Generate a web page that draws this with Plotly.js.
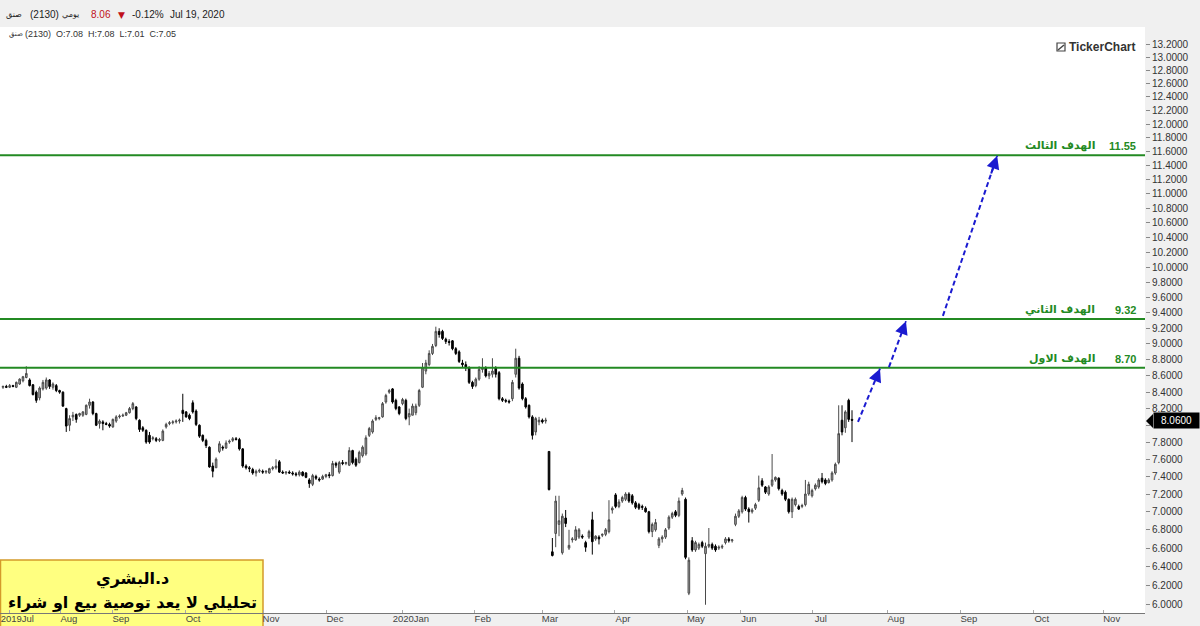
<!DOCTYPE html>
<html><head><meta charset="utf-8">
<script src="https://cdn.plot.ly/plotly-3.0.1.min.js"></script>
<style>html,body{margin:0;padding:0;background:#f0f0f0}#chart{width:1200px;height:626px}</style>
</head><body><div id="chart"></div>
<script>
// ---- data ----
const openP = [8.46,8.47,8.46,8.48,8.46,8.50,8.54,8.58,8.55,8.49,8.40,8.33,8.44,8.45,8.55,8.46,8.48,8.42,8.40,8.20,
8.00,8.10,8.13,8.12,8.12,8.13,8.24,8.28,8.14,8.02,8.04,8.02,8.01,7.98,8.05,8.10,8.11,8.12,8.15,8.20,
8.22,8.06,7.97,7.94,7.88,7.84,7.84,7.82,7.82,7.98,8.02,8.03,8.04,8.05,8.18,8.16,8.12,8.27,8.17,8.00,
7.88,7.82,7.74,7.52,7.50,7.69,7.74,7.73,7.80,7.82,7.84,7.83,7.72,7.52,7.50,7.48,7.44,7.46,7.46,7.45,
7.44,7.49,7.50,7.57,7.45,7.44,7.45,7.44,7.43,7.42,7.45,7.44,7.36,7.31,7.40,7.37,7.37,7.40,7.42,7.41,
7.55,7.45,7.56,7.55,7.53,7.70,7.60,7.56,7.64,7.66,7.88,7.92,8.07,8.08,8.10,8.28,8.40,8.44,8.30,8.22,
8.26,8.30,8.10,8.12,8.15,8.24,8.46,8.66,8.74,8.88,8.98,9.16,9.16,9.06,9.03,9.04,8.94,8.90,8.76,8.74,
8.70,8.52,8.48,8.56,8.68,8.70,8.60,8.62,8.70,8.64,8.32,8.30,8.29,8.32,8.62,8.82,8.50,8.32,8.24,8.10,
7.92,8.04,8.06,8.05,7.69,6.56,6.76,6.86,6.55,6.93,6.60,6.69,6.69,6.72,6.73,6.66,6.72,6.91,6.70,6.72,
6.74,6.75,6.78,7.02,7.19,7.06,7.12,7.14,7.20,7.18,7.10,7.08,7.06,7.04,7.00,6.78,6.80,6.63,6.70,6.72,
6.82,6.94,7.00,6.96,7.20,7.14,6.12,6.68,6.58,6.60,6.66,6.54,6.62,6.64,6.62,6.60,6.61,6.66,6.70,6.68,
6.86,6.95,7.00,7.16,7.03,7.00,7.04,7.13,7.35,7.28,7.20,7.30,7.36,7.38,7.24,7.22,7.14,7.00,7.08,7.06,
7.06,7.08,7.20,7.18,7.26,7.28,7.38,7.36,7.33,7.36,7.44,7.56,8.06,7.97,8.30,8.07];
const highP = [8.48,8.49,8.50,8.49,8.53,8.57,8.60,8.72,8.57,8.50,8.42,8.47,8.55,8.58,8.56,8.52,8.50,8.43,8.41,8.21,
8.12,8.16,8.14,8.15,8.17,8.25,8.32,8.29,8.15,8.07,8.06,8.04,8.03,8.08,8.12,8.13,8.14,8.16,8.22,8.28,
8.23,8.07,7.99,7.95,7.92,7.87,7.86,7.85,7.95,8.03,8.05,8.06,8.07,8.08,8.38,8.17,8.14,8.30,8.19,8.01,
7.89,7.84,7.75,7.56,7.62,7.81,7.76,7.82,7.83,7.86,7.86,7.85,7.73,7.54,7.52,7.50,7.48,7.49,7.48,7.47,
7.50,7.52,7.60,7.59,7.47,7.46,7.47,7.46,7.45,7.47,7.46,7.45,7.38,7.43,7.42,7.39,7.42,7.43,7.45,7.58,
7.57,7.58,7.59,7.57,7.74,7.71,7.62,7.70,7.76,7.88,7.98,8.07,8.12,8.10,8.28,8.38,8.44,8.45,8.32,8.23,
8.33,8.32,8.20,8.26,8.26,8.44,8.76,8.80,8.92,9.00,9.22,9.20,9.18,9.08,9.06,9.05,8.96,8.92,8.80,8.78,
8.72,8.54,8.58,8.72,8.82,8.72,8.66,8.82,8.72,8.66,8.34,8.32,8.31,8.55,8.94,8.85,8.52,8.34,8.25,8.12,
8.10,8.10,8.08,8.09,7.69,6.71,7.18,7.18,6.98,7.02,6.80,6.72,6.84,6.82,6.75,6.68,6.80,7.00,6.74,6.74,
6.76,6.82,7.13,7.06,7.21,7.14,7.18,7.22,7.22,7.20,7.12,7.10,7.08,7.06,7.01,6.88,6.92,6.72,6.74,6.82,
6.96,7.00,7.02,7.16,7.27,7.16,6.50,6.72,6.68,6.66,6.68,6.66,6.82,6.66,6.64,6.63,6.64,6.72,6.72,6.70,
6.98,7.03,7.18,7.18,7.05,7.04,7.10,7.41,7.38,7.29,7.30,7.66,7.40,7.39,7.26,7.24,7.15,7.16,7.16,7.08,
7.09,7.36,7.34,7.26,7.32,7.38,7.44,7.38,7.38,7.46,7.56,8.24,8.24,8.18,8.32,8.18];
const lowP = [8.44,8.45,8.45,8.46,8.45,8.49,8.52,8.57,8.47,8.36,8.27,8.30,8.42,8.43,8.44,8.43,8.40,8.38,8.22,7.92,
7.93,8.05,8.03,8.10,8.10,8.12,8.20,8.12,7.99,7.96,7.94,8.00,7.97,7.97,8.03,8.08,8.10,8.11,8.14,8.18,
8.06,7.92,7.92,7.78,7.78,7.82,7.80,7.80,7.81,7.96,8.00,8.01,8.02,8.02,8.04,8.09,8.06,8.14,7.99,7.85,
7.80,7.73,7.50,7.39,7.50,7.67,7.70,7.72,7.78,7.80,7.82,7.70,7.50,7.48,7.45,7.42,7.40,7.44,7.43,7.43,
7.43,7.47,7.48,7.44,7.43,7.42,7.43,7.41,7.40,7.40,7.40,7.38,7.27,7.29,7.36,7.34,7.36,7.38,7.38,7.40,
7.50,7.43,7.53,7.53,7.52,7.54,7.51,7.55,7.62,7.64,7.86,7.90,8.05,8.06,8.09,8.26,8.38,8.26,8.18,8.12,
8.24,8.06,8.00,8.12,8.12,8.22,8.45,8.62,8.72,8.86,8.96,9.08,9.05,9.00,8.98,8.92,8.86,8.76,8.70,8.66,
8.50,8.44,8.46,8.54,8.64,8.58,8.56,8.58,8.58,8.30,8.28,8.27,8.26,8.29,8.58,8.43,8.30,8.20,8.08,7.83,
7.88,8.00,8.02,8.02,7.24,6.51,6.61,6.73,6.53,6.83,6.58,6.66,6.68,6.70,6.70,6.56,6.70,6.53,6.68,6.64,
6.72,6.73,6.76,6.98,7.04,7.04,7.10,7.12,7.10,7.08,7.03,7.02,7.02,6.99,6.76,6.72,6.78,6.60,6.66,6.70,
6.80,6.92,6.94,6.94,7.18,6.48,6.10,6.56,6.56,6.58,6.60,6.00,6.60,6.58,6.56,6.58,6.59,6.64,6.66,6.66,
6.84,6.93,6.98,7.01,6.88,6.98,7.02,7.11,7.28,7.20,7.18,7.28,7.34,7.24,7.18,7.12,6.98,6.93,7.06,7.02,
7.04,7.06,7.18,7.16,7.24,7.26,7.32,7.30,7.32,7.34,7.42,7.54,7.88,7.91,8.04,7.80];
const closeP = [8.47,8.46,8.48,8.47,8.52,8.56,8.59,8.63,8.48,8.37,8.30,8.45,8.52,8.55,8.47,8.50,8.42,8.40,8.23,7.99,
8.08,8.12,8.07,8.14,8.16,8.24,8.28,8.14,8.00,8.05,8.02,8.01,7.99,8.07,8.10,8.11,8.12,8.15,8.20,8.26,
8.08,7.95,7.94,7.80,7.80,7.85,7.82,7.83,7.93,8.01,8.03,8.04,8.05,8.06,8.14,8.10,8.08,8.16,8.01,7.87,
7.82,7.76,7.51,7.46,7.60,7.78,7.73,7.79,7.81,7.84,7.83,7.72,7.52,7.50,7.49,7.44,7.46,7.47,7.45,7.46,
7.49,7.50,7.52,7.45,7.44,7.45,7.44,7.43,7.42,7.45,7.41,7.39,7.32,7.41,7.38,7.36,7.40,7.42,7.41,7.55,
7.53,7.56,7.55,7.56,7.70,7.56,7.53,7.68,7.74,7.85,7.96,8.05,8.09,8.09,8.26,8.36,8.42,8.28,8.20,8.14,
8.31,8.08,8.14,8.23,8.23,8.42,8.70,8.76,8.88,8.97,9.16,9.12,9.07,9.03,9.02,8.94,8.88,8.78,8.74,8.70,
8.52,8.47,8.56,8.68,8.70,8.60,8.63,8.66,8.62,8.32,8.30,8.29,8.28,8.52,8.82,8.45,8.32,8.22,8.10,7.88,
8.08,8.06,8.04,8.06,7.25,6.52,7.12,6.90,6.95,6.87,6.63,6.70,6.80,6.80,6.72,6.61,6.78,6.67,6.73,6.70,
6.75,6.80,6.91,7.04,7.06,7.11,7.16,7.20,7.12,7.10,7.05,7.04,7.05,7.00,6.78,6.86,6.88,6.70,6.72,6.80,
6.94,6.98,6.96,7.12,7.24,6.50,6.47,6.58,6.66,6.64,6.62,6.62,6.64,6.60,6.58,6.61,6.62,6.70,6.68,6.69,
6.95,7.01,7.16,7.03,7.00,7.02,7.08,7.27,7.30,7.22,7.28,7.36,7.39,7.26,7.20,7.14,7.00,7.14,7.14,7.03,
7.07,7.20,7.31,7.24,7.30,7.36,7.34,7.32,7.36,7.44,7.54,7.90,7.92,8.16,8.07,8.06];
const barIndex = openP.map((_, i) => i + 1);

const monthLabels = ['2019Jul','Aug','Sep','Oct','Nov','Dec','2020Jan','Feb','Mar','Apr','May','Jun','Jul','Aug','Sep','Oct','Nov'];
const monthTickIndex = [2.9,18.4,34.0,55.7,79.1,98.3,121.1,142.7,162.9,184.8,206.7,222.6,244.2,266.8,288.7,310.6,331.6];

const priceTicks = [];
for (let k = 0; k <= 36; k++) priceTicks.push(+(6 + k * 0.2).toFixed(1));

const targetLevels = [8.70, 9.32, 11.55];
const targetNames = ['الهدف الاول', 'الهدف الثاني', 'الهدف الثالث'];

const arrowTailIdx = [257.8, 267.1, 283.3];
const arrowTailVal = [8.04, 8.71, 9.36];
const arrowHeadIdx = [264.4, 272.2, 299.6];
const arrowHeadVal = [8.69, 9.29, 11.54];

const lastPrice = 8.06;
const priceRange = [5.915, 13.462];
const barRange = [0.1, 344.0];

// ---- chart ----
const S = v => Math.sqrt(v);   // the reference uses a square-root price scale
const PLOT_W = 1145, PLOT_TOP = 27, PLOT_BOT = 613, PLOT_H = PLOT_BOT - PLOT_TOP;
const px = x => x / PLOT_W;
const py = y => (PLOT_BOT - y) / PLOT_H;

const trace = {
  type: 'candlestick', x: barIndex,
  open: openP.map(S), high: highP.map(S), low: lowP.map(S), close: closeP.map(S),
  increasing: {line: {color: '#4a4a4a', width: 1}, fillcolor: '#a8a8a8'},
  decreasing: {line: {color: '#000000', width: 1}, fillcolor: '#000000'},
  whiskerwidth: 0, hoverinfo: 'skip', showlegend: false
};

const green = '#238a23';
const blue = '#1a1ad0';
const shapes = [
  {type: 'rect', layer: 'below', xref: 'paper', yref: 'paper', x0: 0, x1: 1, y0: 0, y1: 1, fillcolor: '#ffffff', line: {width: 0}},
  {type: 'rect', layer: 'below', xref: 'paper', yref: 'paper', x0: px(0.5), x1: px(263), y0: py(627), y1: py(560), fillcolor: '#ffff80', line: {color: '#d49a2a', width: 1.5}}
];
targetLevels.forEach(l => shapes.push({type: 'line', xref: 'paper', yref: 'y', x0: 0, x1: 1, y0: S(l), y1: S(l), line: {color: green, width: 2}}));
arrowTailIdx.forEach((_, k) => shapes.push({type: 'line', xref: 'x', yref: 'y',
  x0: arrowTailIdx[k], y0: S(arrowTailVal[k]), x1: arrowHeadIdx[k], y1: S(arrowHeadVal[k]),
  line: {color: blue, width: 2, dash: '5px,3px'}}));
// icon of logo
shapes.push({type: 'rect', xref: 'paper', yref: 'paper', x0: px(1057), x1: px(1065), y0: py(51), y1: py(43), line: {color: '#444', width: 1.2}, fillcolor: '#fff'});
shapes.push({type: 'line', xref: 'paper', yref: 'paper', x0: px(1058), x1: px(1064), y0: py(50), y1: py(45), line: {color: '#444', width: 1.5}});
// notch of the last-price tag
shapes.push({type: 'path', xref: 'paper', yref: 'paper',
  path: 'M ' + px(1146) + ',' + py(421) + ' L ' + px(1153) + ',' + py(414) + ' L ' + px(1153) + ',' + py(428) + ' Z',
  fillcolor: '#000', line: {width: 0}});

const hdrFont = {family: 'Liberation Sans, Arial', size: 10, color: '#222'};
const arFont = {family: 'DejaVu Sans', size: 8, color: '#222'};
function note(x, y, text, font, extra) {
  return Object.assign({xref: 'paper', yref: 'paper', x: px(x), y: py(y), text: text, showarrow: false,
    xanchor: 'center', yanchor: 'middle', font: font}, extra || {});
}
const annotations = [
  note(14, 14, 'صنق', arFont),
  note(44, 14, '(2130)', hdrFont),
  note(70, 14, 'يومي', arFont),
  note(101, 14, '8.06', {family: 'Liberation Sans, Arial', size: 10, color: '#c0101a'}),
  note(121, 15, '▼', {family: 'DejaVu Sans', size: 9, color: '#c0101a'}),
  note(148, 14, '-0.12%', hdrFont),
  note(197, 14, 'Jul 19, 2020', hdrFont),
  note(7, 34, 'صنق', {family: 'DejaVu Sans', size: 7, color: '#333'}, {xanchor: 'left'}),
  note(23, 34, '(2130)  O:7.08  H:7.08  L:7.01  C:7.05', {family: 'Liberation Sans, Arial', size: 9, color: '#333'}, {xanchor: 'left'}),
  note(1067, 47, '<b>TickerChart</b>', {family: 'Liberation Sans, Arial', size: 12, color: '#333'}, {xanchor: 'left'}),
  {xref: 'paper', yref: 'y', x: px(1153), y: S(lastPrice), xanchor: 'left', yanchor: 'middle', text: lastPrice.toFixed(4), showarrow: false, bgcolor: '#000', borderpad: 2, font: {family: 'Liberation Sans, Arial', size: 10, color: '#fff'}, width: 41},
  note(132, 579, '<b>د.البشري</b>', {family: 'DejaVu Sans', size: 16, color: '#000'}),
  note(132, 603, '<b>تحليلي لا يعد توصية بيع او شراء</b>', {family: 'DejaVu Sans', size: 16, color: '#000'})
];
targetLevels.forEach((l, k) => {
  annotations.push({xref: 'paper', yref: 'y', x: px(1097), y: S(l), yanchor: 'bottom', yshift: 1, xanchor: 'right', text: '<b>' + targetNames[k] + '</b>', showarrow: false, font: {family: 'DejaVu Sans', size: 11, color: green}});
  annotations.push({xref: 'paper', yref: 'y', x: px(1138), y: S(l), yanchor: 'bottom', yshift: 1, xanchor: 'right', text: '<b>' + l.toFixed(2) + '</b>', showarrow: false, font: {family: 'Liberation Sans, Arial', size: 11, color: green}});
});
arrowTailIdx.forEach((_, k) => {
  const hx = arrowHeadIdx[k], hy = S(arrowHeadVal[k]);
  const tx = arrowTailIdx[k], ty = S(arrowTailVal[k]);
  annotations.push({xref: 'x', yref: 'y', axref: 'x', ayref: 'y', x: hx, y: hy,
    ax: hx - (hx - tx) * 0.12, ay: hy - (hy - ty) * 0.12, showarrow: true, text: '',
    arrowhead: 2, arrowsize: 1.3, arrowwidth: 2, arrowcolor: blue});
});

// the tick label hidden under the last-price tag in the reference is left blank
const priceTickText = priceTicks.map(v => Math.abs(v - lastPrice) < 0.1 ? '' : v.toFixed(4));

const layout = {
  width: 1200, height: 626,
  margin: {l: 0, r: 55, t: PLOT_TOP, b: 626 - PLOT_BOT, pad: 0},
  paper_bgcolor: '#f0f0f0', plot_bgcolor: 'rgba(0,0,0,0)',
  showlegend: false, dragmode: false,
  xaxis: {type: 'linear', range: barRange, tickvals: monthTickIndex, ticktext: monthLabels,
    ticks: 'inside', ticklen: 3, tickcolor: '#aaa', ticklabelshift: 8, ticklabelstandoff: -3,
    ticklabeloverflow: 'allow',
    showline: true, linecolor: '#777', linewidth: 1, showgrid: false, zeroline: false,
    rangeslider: {visible: false}, fixedrange: true,
    tickfont: {family: 'Liberation Sans, Arial', size: 9.5, color: '#444'}},
  yaxis: {side: 'right', range: priceRange.map(S), tickvals: priceTicks.map(S), ticktext: priceTickText,
    ticks: 'outside', ticklen: 4, tickcolor: '#888', showgrid: false, zeroline: false, showline: false,
    fixedrange: true, tickfont: {family: 'Liberation Sans, Arial', size: 10, color: '#333'}},
  shapes: shapes, annotations: annotations
};

Plotly.newPlot('chart', [trace], layout, {displayModeBar: false, staticPlot: true});
</script>
</body></html>
